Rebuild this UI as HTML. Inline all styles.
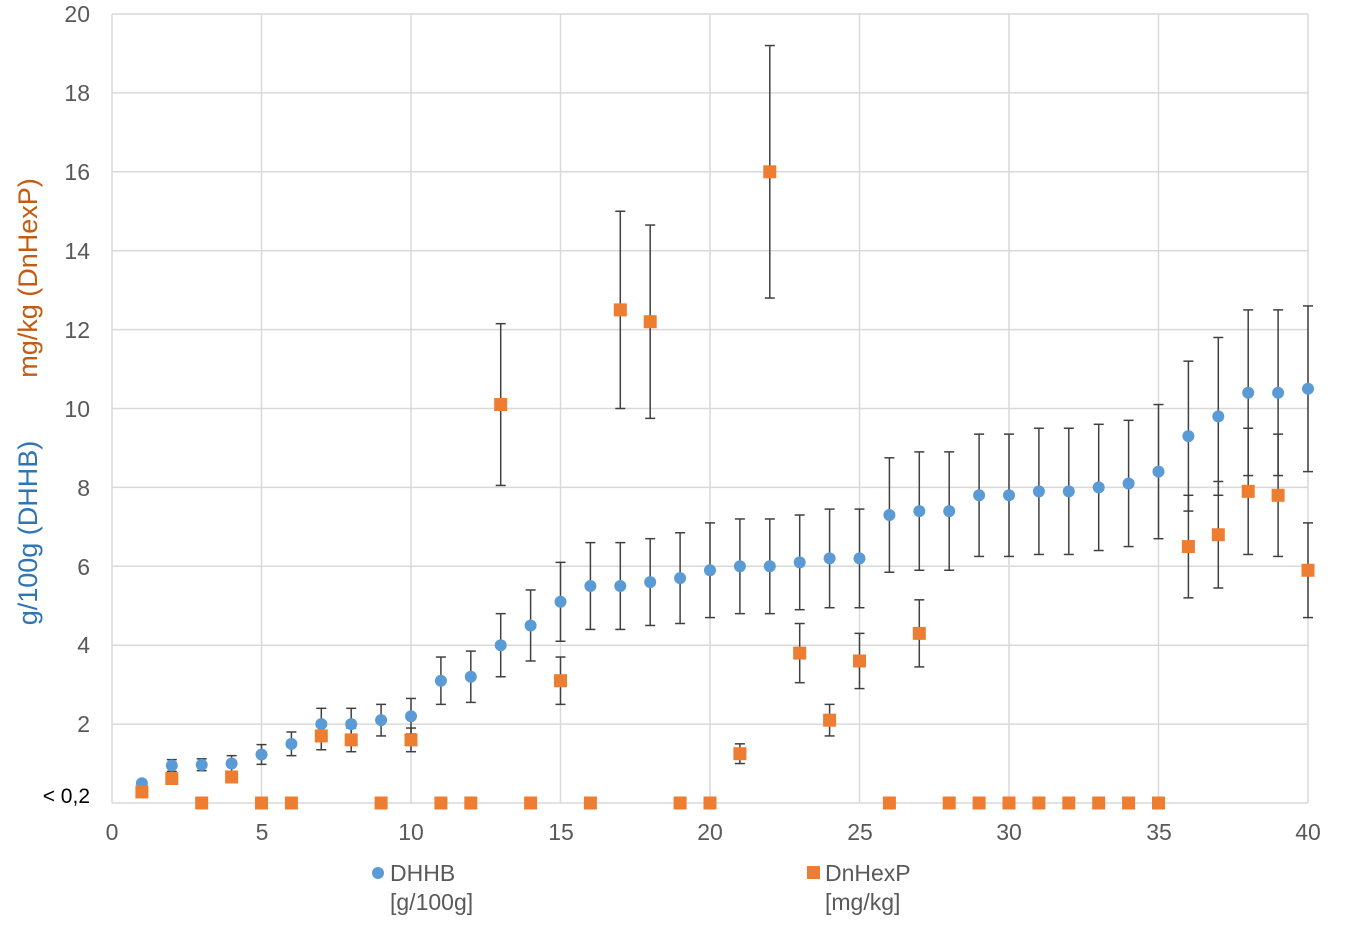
<!DOCTYPE html>
<html><head><meta charset="utf-8"><style>
body{margin:0;background:#fff;}
svg{display:block;font-family:"Liberation Sans",sans-serif;}
</style></head><body>
<svg id="s" width="1345" height="939" viewBox="0 0 1345 939">
<g stroke="#d9d9d9" stroke-width="1.5" id="grid"></g>
<g font-size="23" fill="#595959" text-anchor="end">
<text x="90" y="22">20</text><text x="90" y="101">18</text><text x="90" y="180">16</text>
<text x="90" y="259">14</text><text x="90" y="338">12</text><text x="90" y="417">10</text>
<text x="90" y="496">8</text><text x="90" y="575">6</text><text x="90" y="653">4</text>
<text x="90" y="732">2</text><text x="90" y="803" fill="#000" font-size="21">&lt; 0,2</text>
</g>
<g font-size="23" fill="#595959" text-anchor="middle">
<text x="112" y="840">0</text><text x="262" y="840">5</text><text x="411" y="840">10</text>
<text x="561" y="840">15</text><text x="710" y="840">20</text><text x="860" y="840">25</text>
<text x="1009" y="840">30</text><text x="1159" y="840">35</text><text x="1308" y="840">40</text>
</g>
<text transform="translate(37,533) rotate(-90)" font-size="27" text-anchor="middle" fill="#2E75B6">g/100g (DHHB)</text>
<text transform="translate(37,278) rotate(-90)" font-size="27" text-anchor="middle" fill="#C55A11">mg/kg (DnHexP)</text>
<g id="d"></g>
<circle cx="378" cy="873" r="6" fill="#5B9BD5"/>
<text x="390" y="881" font-size="23" fill="#595959">DHHB</text>
<text x="390" y="910" font-size="23" fill="#595959">[g/100g]</text>
<rect x="807" y="866" width="13" height="13" fill="#ED7D31"/>
<text x="825" y="881" font-size="23" fill="#595959">DnHexP</text>
<text x="825" y="910" font-size="23" fill="#595959">[mg/kg]</text>
</svg>
<script>
var NS="http://www.w3.org/2000/svg";
function X(v){return 112+v*29.9;}function Y(v){return 803-v*39.45;}
function el(p,t,a){var e=document.createElementNS(NS,t);for(var k in a)e.setAttribute(k,a[k]);p.appendChild(e);return e;}
var g=document.getElementById('grid'),d=document.getElementById('d');
for(var i=0;i<=10;i++){el(g,'line',{x1:112,x2:1308,y1:Y(i*2),y2:Y(i*2)});}
for(var i=0;i<=8;i++){el(g,'line',{x1:X(i*5),x2:X(i*5),y1:14,y2:803});}
var A=[[1,.5,0],[2,.95,.15],[3,.97,.15],[4,1,.2],[5,1.23,.25],[6,1.5,.3],[7,2,.4],[8,2,.4],[9,2.1,.4],[10,2.2,.45],[11,3.1,.6],[12,3.2,.65],[13,4,.8],[14,4.5,.9],[15,5.1,1],[16,5.5,1.1],[17,5.5,1.1],[18,5.6,1.1],[19,5.7,1.15],[20,5.9,1.2],[21,6,1.2],[22,6,1.2],[23,6.1,1.2],[24,6.2,1.25],[25,6.2,1.25],[26,7.3,1.45],[27,7.4,1.5],[28,7.4,1.5],[29,7.8,1.55],[30,7.8,1.55],[31,7.9,1.6],[32,7.9,1.6],[33,8,1.6],[34,8.1,1.6],[35,8.4,1.7],[36,9.3,1.9],[37,9.8,2],[38,10.4,2.1],[39,10.4,2.1],[40,10.5,2.1]];
var B=[[1,.28,0],[2,.62,0],[3,0,0],[4,.66,0],[5,0,0],[6,0,0],[7,1.7,.35],[8,1.6,.3],[9,0,0],[10,1.6,.3],[11,0,0],[12,0,0],[13,10.1,2.05],[14,0,0],[15,3.1,.6],[16,0,0],[17,12.5,2.5],[18,12.2,2.45],[19,0,0],[20,0,0],[21,1.25,.25],[22,16,3.2],[23,3.8,.75],[24,2.1,.4],[25,3.6,.7],[26,0,0],[27,4.3,.85],[28,0,0],[29,0,0],[30,0,0],[31,0,0],[32,0,0],[33,0,0],[34,0,0],[35,0,0],[36,6.5,1.3],[37,6.8,1.35],[38,7.9,1.6],[39,7.8,1.55],[40,5.9,1.2]];
function eb(r){if(!r[2])return;var x=X(r[0]),t=Y(r[1]+r[2]),b=Y(r[1]-r[2]);
el(d,'line',{x1:x,x2:x,y1:t,y2:b,stroke:'#404040','stroke-width':1.5});
el(d,'line',{x1:x-5,x2:x+5,y1:t,y2:t,stroke:'#404040','stroke-width':1.5});
el(d,'line',{x1:x-5,x2:x+5,y1:b,y2:b,stroke:'#404040','stroke-width':1.5});}
A.forEach(eb);B.forEach(eb);
A.forEach(function(r){el(d,'circle',{cx:X(r[0]),cy:Y(r[1]),r:6,fill:'#5B9BD5'});});
B.forEach(function(r){el(d,'rect',{x:X(r[0])-6.5,y:Y(r[1])-6.5,width:13,height:13,fill:'#ED7D31'});});
</script>
</body></html>
